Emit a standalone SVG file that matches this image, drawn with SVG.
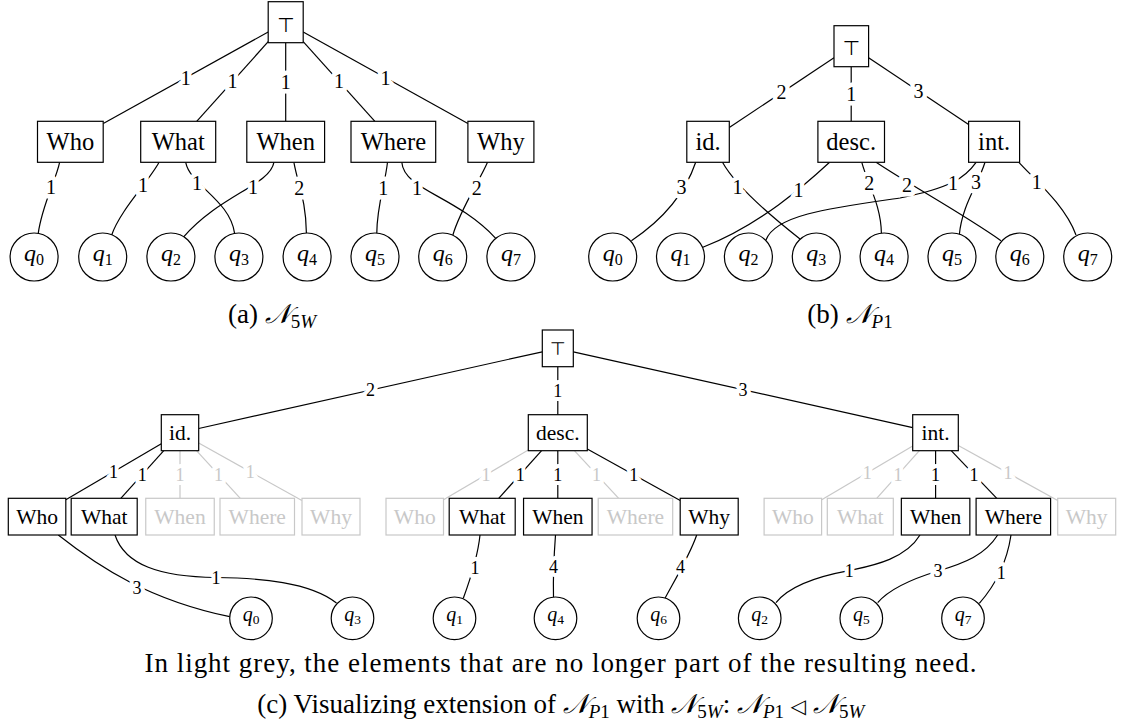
<svg xmlns="http://www.w3.org/2000/svg" width="1121" height="727" viewBox="0 0 1121 727">
<style>
.box{fill:#fff;stroke:#000;stroke-width:1.2}
.gb{fill:#fff;stroke:#c8c8c8;stroke-width:1.2}
.circ{fill:#fff;stroke:#000;stroke-width:1.2}
.e{fill:none;stroke:#000;stroke-width:1.2}
.ge{fill:none;stroke:#c8c8c8;stroke-width:1.2}
text{font-family:"Liberation Serif",serif;text-anchor:middle;fill:#000}
.nl{font-size:24.5px}
.nc{font-size:21.5px}
.grey{fill:#c8c8c8}
.top{font-family:"DejaVu Sans",sans-serif}
.lb{font-size:20px;paint-order:stroke;stroke:#fff;stroke-width:9px;stroke-linejoin:round}
.lc{font-size:18px;paint-order:stroke;stroke:#fff;stroke-width:8px;stroke-linejoin:round}
.q{font-size:24px}
.qc{font-size:20px}
.it{font-style:italic}
.cap{font-size:27px}
.cal{font-family:"DejaVu Serif","DejaVu Sans",serif;font-style:italic}
</style>

<g id="connectors">
  <g id="edges-a">
    <path class="e" d="M268.2,32 L103.3,123.5"/>
    <path class="e" d="M268.2,41.7 L196.7,121.3"/>
    <path class="e" d="M285.7,42.7 L285.7,121.3"/>
    <path class="e" d="M303.2,41.7 L374.9,121.3"/>
    <path class="e" d="M303.2,32 L467.9,123.4"/>
    <path class="e" d="M59.6,162.3 C56,180 42,205 38.2,233.6"/>
    <path class="e" d="M159,162.3 C150,180 120,210 111.4,235.7"/>
    <path class="e" d="M185.7,162.3 C190,185 230,200 234.6,233.3"/>
    <path class="e" d="M273.9,162.3 C270,185 220,195 183.2,237.3"/>
    <path class="e" d="M293.9,162.3 C298,185 306,200 306.4,233"/>
    <path class="e" d="M387.5,162.3 C385,185 377,205 376.8,233"/>
    <path class="e" d="M401.8,162.3 C404,190 455,195 495.7,238.3"/>
    <path class="e" d="M487.5,162.3 C480,180 460,210 452.9,235"/>
  </g>
  <g id="edges-b">
    <path class="e" d="M834,57.7 L729.3,127.5"/>
    <path class="e" d="M851.2,66.7 L851.2,121.3"/>
    <path class="e" d="M868.6,57.8 L968.6,124.6"/>
    <path class="e" d="M695.7,162.3 C688,185 670,215 631.4,240.7"/>
    <path class="e" d="M722.5,162.3 C735,185 772,217 800,239"/>
    <path class="e" d="M829.6,162.3 C805,185 760,225 702.9,247.3"/>
    <path class="e" d="M861.8,162.3 C868,185 881,205 881.4,233.3"/>
    <path class="e" d="M876.1,162.3 C910,185 960,212 1001,240.7"/>
    <path class="e" d="M976.1,162.3 C965,178 950,188 900,198 C830,208 775,215 766,240"/>
    <path class="e" d="M985,162.3 C978,185 962,205 959.3,235"/>
    <path class="e" d="M1018.9,162.3 C1035,180 1065,205 1076,235"/>
  </g>
  <g id="edges-c">
    <path class="e" d="M542.3,351.8 L198.7,428.5"/>
    <path class="e" d="M557.8,366.7 L557.8,414.7"/>
    <path class="e" d="M573.3,351.8 L912.7,427.6"/>
    <path class="ge" d="M180,450.7 L180,498.3"/>
    <path class="ge" d="M196.5,450.7 L240.3,498.3"/>
    <path class="ge" d="M198.7,443.1 L301.9,500.5"/>
    <path class="ge" d="M528.3,450 L443.5,499.8"/>
    <path class="ge" d="M574.4,450.7 L618.7,498.3"/>
    <path class="ge" d="M912.7,446.1 L821.7,499.8"/>
    <path class="ge" d="M919.4,450.7 L876.7,498.3"/>
    <path class="ge" d="M958.3,445.4 L1057.7,500.6"/>
    <path class="e" d="M161.3,443.7 L65.8,499.8"/>
    <path class="e" d="M163.8,450.7 L120.8,498.3"/>
    <path class="e" d="M541.6,450.7 L498.7,498.3"/>
    <path class="e" d="M557.8,450.7 L557.8,498.3"/>
    <path class="e" d="M587.3,449.1 L680.2,500.6"/>
    <path class="e" d="M935.6,450.7 L935.6,498.3"/>
    <path class="e" d="M951.2,450.7 L996.8,498.3"/>
    <path class="e" d="M58.3,535 C100,568 150,600 229.7,616.7"/>
    <path class="e" d="M115,535 C125,565 160,577 216,577.5 C260,578 310,582 336.5,603"/>
    <path class="e" d="M480,535 C478,555 470,580 463.3,598.3"/>
    <path class="e" d="M555.5,535 C554,555 553,575 553.5,597"/>
    <path class="e" d="M696.7,535 C690,555 672,585 665,598.3"/>
    <path class="e" d="M920,535 C905,560 870,566 849,570.7 C820,576 790,585 776,602.7"/>
    <path class="e" d="M997.7,535 C985,555 965,563 938,571 C915,578 890,588 877.7,602.7"/>
    <path class="e" d="M1011,535 C1008,555 1000,580 979.3,603.3"/>
  </g>
  <g id="edge-labels">
    <text class="lb" x="185.7" y="84.8">1</text>
    <text class="lb" x="232.5" y="88.4">1</text>
    <text class="lb" x="285.7" y="88.8">1</text>
    <text class="lb" x="339" y="88.4">1</text>
    <text class="lb" x="385.5" y="84.6">1</text>
    <text class="lb" x="51" y="193.5">1</text>
    <text class="lb" x="142.9" y="191.8">1</text>
    <text class="lb" x="197" y="190.1">1</text>
    <text class="lb" x="252.9" y="193.5">1</text>
    <text class="lb" x="299.3" y="195.1">2</text>
    <text class="lb" x="383.2" y="195.1">1</text>
    <text class="lb" x="417.1" y="195.1">1</text>
    <text class="lb" x="476.8" y="195.1">2</text>

    <text class="lb" x="781.6" y="99.4">2</text>
    <text class="lb" x="851.2" y="100.8">1</text>
    <text class="lb" x="918.6" y="98">3</text>
    <text class="lb" x="681.4" y="193.5">3</text>
    <text class="lb" x="737.5" y="193.5">1</text>
    <text class="lb" x="798.6" y="196.8">1</text>
    <text class="lb" x="869.3" y="190.1">2</text>
    <text class="lb" x="907.1" y="191.8">2</text>
    <text class="lb" x="952.9" y="190.1">1</text>
    <text class="lb" x="976.1" y="188.5">3</text>
    <text class="lb" x="1036.8" y="188.5">1</text>

    <text class="lc" x="370.5" y="396.2">2</text>
    <text class="lc" x="557.8" y="396.8">1</text>
    <text class="lc" x="743" y="395.8">3</text>
    <text class="lc" x="113.5" y="477.8">1</text>
    <text class="lc" x="142.3" y="480.6">1</text>
    <text class="lc grey" x="180" y="480.6">1</text>
    <text class="lc grey" x="218.4" y="480.6">1</text>
    <text class="lc grey" x="250.3" y="477.9">1</text>
    <text class="lc grey" x="485.9" y="481">1</text>
    <text class="lc" x="520.2" y="480.6">1</text>
    <text class="lc" x="557.8" y="480.6">1</text>
    <text class="lc grey" x="596.5" y="480.6">1</text>
    <text class="lc" x="633.8" y="481">1</text>
    <text class="lc grey" x="867.2" y="479.1">1</text>
    <text class="lc grey" x="898" y="480.6">1</text>
    <text class="lc" x="935.6" y="480.6">1</text>
    <text class="lc" x="974" y="480.6">1</text>
    <text class="lc grey" x="1008" y="479.1">1</text>
    <text class="lc" x="137" y="593.6">3</text>
    <text class="lc" x="216" y="583.6">1</text>
    <text class="lc" x="475" y="574.4">1</text>
    <text class="lc" x="553.5" y="572.8">4</text>
    <text class="lc" x="680.5" y="572.8">4</text>
    <text class="lc" x="849.2" y="576.8">1</text>
    <text class="lc" x="938" y="577.1">3</text>
    <text class="lc" x="1001.3" y="579.1">1</text>
  </g>
</g>

<g id="panel-a">
  <g id="a-top"><rect class="box" x="268.2" y="1.7" width="35" height="41"/><text class="top" x="285.7" y="31.7" font-size="20">⊤</text></g>
  <g id="a-who"><rect class="box" x="37.5" y="121.3" width="65.7" height="41"/><text class="nl" x="70.4" y="150">Who</text></g>
  <g id="a-what"><rect class="box" x="140.7" y="121.3" width="75" height="41"/><text class="nl" x="178.2" y="150">What</text></g>
  <g id="a-when"><rect class="box" x="246.8" y="121.3" width="77.8" height="41"/><text class="nl" x="285.7" y="150">When</text></g>
  <g id="a-where"><rect class="box" x="351" y="121.3" width="84.7" height="41"/><text class="nl" x="393.4" y="150">Where</text></g>
  <g id="a-why"><rect class="box" x="467.9" y="121.3" width="66" height="41"/><text class="nl" x="500.9" y="150">Why</text></g>
  <g id="a-q0"><circle class="circ" cx="34.1" cy="257" r="24"/><text class="q" x="34.1" y="260.6"><tspan class="it">q</tspan><tspan font-size="16" dy="4">0</tspan></text></g>
  <g id="a-q1"><circle class="circ" cx="102.7" cy="257" r="24"/><text class="q" x="102.7" y="260.6"><tspan class="it">q</tspan><tspan font-size="16" dy="4">1</tspan></text></g>
  <g id="a-q2"><circle class="circ" cx="170.9" cy="257" r="24"/><text class="q" x="170.9" y="260.6"><tspan class="it">q</tspan><tspan font-size="16" dy="4">2</tspan></text></g>
  <g id="a-q3"><circle class="circ" cx="238.9" cy="257" r="24"/><text class="q" x="238.9" y="260.6"><tspan class="it">q</tspan><tspan font-size="16" dy="4">3</tspan></text></g>
  <g id="a-q4"><circle class="circ" cx="307.1" cy="257" r="24"/><text class="q" x="307.1" y="260.6"><tspan class="it">q</tspan><tspan font-size="16" dy="4">4</tspan></text></g>
  <g id="a-q5"><circle class="circ" cx="375" cy="257" r="24"/><text class="q" x="375" y="260.6"><tspan class="it">q</tspan><tspan font-size="16" dy="4">5</tspan></text></g>
  <g id="a-q6"><circle class="circ" cx="442.7" cy="257" r="24"/><text class="q" x="442.7" y="260.6"><tspan class="it">q</tspan><tspan font-size="16" dy="4">6</tspan></text></g>
  <g id="a-q7"><circle class="circ" cx="510.9" cy="257" r="24"/><text class="q" x="510.9" y="260.6"><tspan class="it">q</tspan><tspan font-size="16" dy="4">7</tspan></text></g>
  <text id="a-caption" class="cap" x="272" y="323">(a) <tspan class="cal">𝒩</tspan><tspan font-size="19" dy="5">5</tspan><tspan font-size="19" class="it">W</tspan></text>
</g>

<g id="panel-b">
  <g id="b-top"><rect class="box" x="834" y="25.7" width="34.6" height="41"/><text class="top" x="851.3" y="55" font-size="20">⊤</text></g>
  <g id="b-id"><rect class="box" x="686.8" y="121.3" width="42.5" height="41"/><text class="nl" x="708" y="150">id.</text></g>
  <g id="b-desc"><rect class="box" x="817.9" y="121.3" width="66.6" height="41"/><text class="nl" x="851.2" y="150">desc.</text></g>
  <g id="b-int"><rect class="box" x="968.6" y="121.3" width="51" height="41"/><text class="nl" x="994.1" y="150">int.</text></g>
  <g id="b-q0"><circle class="circ" cx="612.7" cy="257" r="24"/><text class="q" x="612.7" y="260.6"><tspan class="it">q</tspan><tspan font-size="16" dy="4">0</tspan></text></g>
  <g id="b-q1"><circle class="circ" cx="680.5" cy="257" r="24"/><text class="q" x="680.5" y="260.6"><tspan class="it">q</tspan><tspan font-size="16" dy="4">1</tspan></text></g>
  <g id="b-q2"><circle class="circ" cx="748.4" cy="257" r="24"/><text class="q" x="748.4" y="260.6"><tspan class="it">q</tspan><tspan font-size="16" dy="4">2</tspan></text></g>
  <g id="b-q3"><circle class="circ" cx="816.3" cy="257" r="24"/><text class="q" x="816.3" y="260.6"><tspan class="it">q</tspan><tspan font-size="16" dy="4">3</tspan></text></g>
  <g id="b-q4"><circle class="circ" cx="884.1" cy="257" r="24"/><text class="q" x="884.1" y="260.6"><tspan class="it">q</tspan><tspan font-size="16" dy="4">4</tspan></text></g>
  <g id="b-q5"><circle class="circ" cx="952" cy="257" r="24"/><text class="q" x="952" y="260.6"><tspan class="it">q</tspan><tspan font-size="16" dy="4">5</tspan></text></g>
  <g id="b-q6"><circle class="circ" cx="1019.8" cy="257" r="24"/><text class="q" x="1019.8" y="260.6"><tspan class="it">q</tspan><tspan font-size="16" dy="4">6</tspan></text></g>
  <g id="b-q7"><circle class="circ" cx="1087.7" cy="257" r="24"/><text class="q" x="1087.7" y="260.6"><tspan class="it">q</tspan><tspan font-size="16" dy="4">7</tspan></text></g>
  <text id="b-caption" class="cap" x="850" y="323">(b) <tspan class="cal">𝒩</tspan><tspan font-size="19" dy="5" class="it">P</tspan><tspan font-size="19">1</tspan></text>
</g>

<g id="panel-c">
  <g id="c-top"><rect class="box" x="542.3" y="330" width="31" height="36.7"/><text class="top" x="557.8" y="355" font-size="18">⊤</text></g>
  <g id="c-id"><rect class="box" x="161.3" y="414.7" width="37.4" height="36"/><text class="nc" x="180" y="440">id.</text></g>
  <g id="c-desc"><rect class="box" x="528.3" y="414.7" width="59" height="36"/><text class="nc" x="557.8" y="440">desc.</text></g>
  <g id="c-int"><rect class="box" x="912.7" y="414.7" width="45.6" height="36"/><text class="nc" x="935.5" y="440">int.</text></g>

  <g id="c-id-who"><rect class="box" x="8.3" y="498.3" width="57.5" height="36.7"/><text class="nc" x="37.05" y="524">Who</text></g>
  <g id="c-id-what"><rect class="box" x="71.2" y="498.3" width="66" height="36.7"/><text class="nc" x="104.2" y="524">What</text></g>
  <g id="c-id-when"><rect class="gb" x="145.75" y="498.3" width="68.5" height="36.7"/><text class="nc grey" x="180" y="524">When</text></g>
  <g id="c-id-where"><rect class="gb" x="220" y="498.3" width="74.5" height="36.7"/><text class="nc grey" x="257.25" y="524">Where</text></g>
  <g id="c-id-why"><rect class="gb" x="302" y="498.3" width="58" height="36.7"/><text class="nc grey" x="331" y="524">Why</text></g>

  <g id="c-desc-who"><rect class="gb" x="386" y="498.3" width="57.5" height="36.7"/><text class="nc grey" x="414.75" y="524">Who</text></g>
  <g id="c-desc-what"><rect class="box" x="449.2" y="498.3" width="66" height="36.7"/><text class="nc" x="482.2" y="524">What</text></g>
  <g id="c-desc-when"><rect class="box" x="523.55" y="498.3" width="68.5" height="36.7"/><text class="nc" x="557.8" y="524">When</text></g>
  <g id="c-desc-where"><rect class="gb" x="598.2" y="498.3" width="74.5" height="36.7"/><text class="nc grey" x="635.45" y="524">Where</text></g>
  <g id="c-desc-why"><rect class="box" x="680.2" y="498.3" width="58" height="36.7"/><text class="nc" x="709.2" y="524">Why</text></g>

  <g id="c-int-who"><rect class="gb" x="764.1" y="498.3" width="57.5" height="36.7"/><text class="nc grey" x="792.85" y="524">Who</text></g>
  <g id="c-int-what"><rect class="gb" x="827.3" y="498.3" width="66" height="36.7"/><text class="nc grey" x="860.3" y="524">What</text></g>
  <g id="c-int-when"><rect class="box" x="901.35" y="498.3" width="68.5" height="36.7"/><text class="nc" x="935.6" y="524">When</text></g>
  <g id="c-int-where"><rect class="box" x="976.1" y="498.3" width="74.5" height="36.7"/><text class="nc" x="1013.35" y="524">Where</text></g>
  <g id="c-int-why"><rect class="gb" x="1057.7" y="498.3" width="58" height="36.7"/><text class="nc grey" x="1086.7" y="524">Why</text></g>

  <g id="c-q0"><circle class="circ" cx="251" cy="618.3" r="21.3"/><text class="qc" x="251" y="620.8"><tspan class="it">q</tspan><tspan font-size="13.5" dy="3.5">0</tspan></text></g>
  <g id="c-q3"><circle class="circ" cx="352.5" cy="618.3" r="21.3"/><text class="qc" x="352.5" y="620.8"><tspan class="it">q</tspan><tspan font-size="13.5" dy="3.5">3</tspan></text></g>
  <g id="c-q1"><circle class="circ" cx="454.5" cy="618.3" r="21.3"/><text class="qc" x="454.5" y="620.8"><tspan class="it">q</tspan><tspan font-size="13.5" dy="3.5">1</tspan></text></g>
  <g id="c-q4"><circle class="circ" cx="555.5" cy="618.3" r="21.3"/><text class="qc" x="555.5" y="620.8"><tspan class="it">q</tspan><tspan font-size="13.5" dy="3.5">4</tspan></text></g>
  <g id="c-q6"><circle class="circ" cx="658.5" cy="618.3" r="21.3"/><text class="qc" x="658.5" y="620.8"><tspan class="it">q</tspan><tspan font-size="13.5" dy="3.5">6</tspan></text></g>
  <g id="c-q2"><circle class="circ" cx="759.7" cy="618.3" r="21.3"/><text class="qc" x="759.7" y="620.8"><tspan class="it">q</tspan><tspan font-size="13.5" dy="3.5">2</tspan></text></g>
  <g id="c-q5"><circle class="circ" cx="861.3" cy="618.3" r="21.3"/><text class="qc" x="861.3" y="620.8"><tspan class="it">q</tspan><tspan font-size="13.5" dy="3.5">5</tspan></text></g>
  <g id="c-q7"><circle class="circ" cx="963" cy="618.3" r="21.3"/><text class="qc" x="963" y="620.8"><tspan class="it">q</tspan><tspan font-size="13.5" dy="3.5">7</tspan></text></g>

  <text id="c-note" class="cap" x="144.5" y="671.5" style="text-anchor:start" textLength="832" lengthAdjust="spacing">In light grey, the elements that are no longer part of the resulting need.</text>
  <text id="c-caption" class="cap" x="560.8" y="713">(c) Visualizing extension of <tspan class="cal">𝒩</tspan><tspan font-size="19" dy="5" class="it">P</tspan><tspan font-size="19">1</tspan><tspan dy="-5"> with </tspan><tspan class="cal">𝒩</tspan><tspan font-size="19" dy="5">5</tspan><tspan font-size="19" class="it">W</tspan><tspan dy="-5">: </tspan><tspan class="cal">𝒩</tspan><tspan font-size="19" dy="5" class="it">P</tspan><tspan font-size="19">1</tspan><tspan dy="-5"> </tspan><tspan class="top" font-size="20">◁</tspan><tspan> </tspan><tspan class="cal">𝒩</tspan><tspan font-size="19" dy="5">5</tspan><tspan font-size="19" class="it">W</tspan></text>
</g>
</svg>
